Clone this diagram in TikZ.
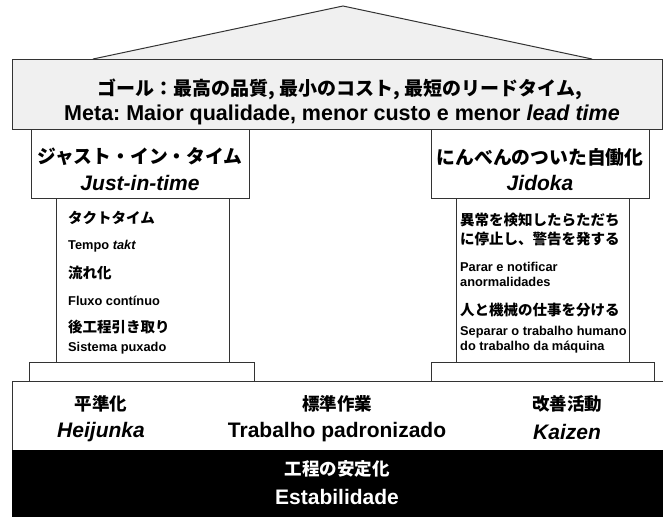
\documentclass[tikz,border=0pt]{standalone}
\usepackage{fontspec}
\setmainfont{Liberation Sans}
\newfontfamily\jp{Noto Sans CJK JP}
\definecolor{roofgray}{HTML}{F0F0F0}
\definecolor{edge}{HTML}{333333}
\frenchspacing
\begin{document}
\begin{tikzpicture}[x=1pt,y=-1pt,
  part/.style={draw=edge,line width=1pt},
  jpbig/.style={font=\jp\bfseries\fontsize{19}{22}\selectfont,inner sep=0pt},
  jphead/.style={font=\jp\bfseries\fontsize{18.8}{22}\selectfont,inner sep=0pt},
  jpmid/.style={font=\jp\bfseries\fontsize{17.5}{20}\selectfont,inner sep=0pt},
  jpsmall/.style={font=\jp\bfseries\fontsize{14.5}{17}\selectfont,inner sep=0pt,anchor=west},
  latbig/.style={font=\bfseries\fontsize{21}{24}\selectfont,inner sep=0pt},
  latsmall/.style={font=\bfseries\fontsize{12.8}{15}\selectfont,inner sep=0pt,anchor=west}]
\useasboundingbox (0,0) rectangle (663,517);
% roof
\draw[part,fill=roofgray] (93,59) -- (343,6) -- (592,59);
\draw[part,fill=roofgray] (12,59) rectangle (662.5,129);
% pillar shafts
\draw[part,fill=white] (56,198) rectangle (229,362);
\draw[part,fill=white] (456,198) rectangle (629,362);
% pillar heads
\draw[part,fill=white] (31,129) rectangle (249,198);
\draw[part,fill=white] (431,129) rectangle (649,198);
% pillar bases
\draw[part,fill=white] (29,362) rectangle (254,381);
\draw[part,fill=white] (431,362) rectangle (654,381);
% foundation
\draw[part,fill=white] (12,381) rectangle (664,450);
\fill[black] (12,450) rectangle (663,517);
% roof text
\node[jpbig] (goaljp) at (340,89) {ゴール：最高の品質, 最小のコスト, 最短のリードタイム,};
\node[latbig,font=\bfseries\fontsize{21.5}{24}\selectfont] (goalpt) at (342,115) {Meta: Maior qualidade, menor custo e menor \textit{lead time}};
% pillar heads text
\node[jphead] (jitjp) at (140,157) {ジャスト・イン・タイム};
\node[latbig] (jitpt) at (140,183) {\textit{Just-in-time}};
\node[jphead] (jidjp) at (540,157) {にんべんのついた自働化};
\node[latbig] (jidpt) at (540,183) {\textit{Jidoka}};
% left shaft
\node[jpsmall] (l1) at (68,218) {タクトタイム};
\node[latsmall] (l2) at (68,246) {Tempo \textit{takt}};
\node[jpsmall] (l3) at (68,273) {流れ化};
\node[latsmall] (l4) at (68,301) {Fluxo contínuo};
\node[jpsmall] (l5) at (68,327) {後工程引き取り};
\node[latsmall] (l6) at (68,348) {Sistema puxado};
% right shaft
\node[jpsmall] (r1) at (460,220) {異常を検知したらただち};
\node[jpsmall] (r2) at (460,239) {に停止し、警告を発する};
\node[latsmall] (r3) at (460,267) {Parar e notificar};
\node[latsmall] (r4) at (460,282) {anormalidades};
\node[jpsmall] (r5) at (460,310) {人と機械の仕事を分ける};
\node[latsmall] (r6) at (460,332) {Separar o trabalho humano};
\node[latsmall] (r7) at (460,347) {do trabalho da máquina};
% foundation
\node[jpmid] (f1jp) at (101,404) {平準化};
\node[latbig] (f1pt) at (101,432) {\textit{Heijunka}};
\node[jpmid] (f2jp) at (337,404) {標準作業};
\node[latbig] (f2pt) at (337,432) {Trabalho padronizado};
\node[jpmid] (f3jp) at (567,404) {改善活動};
\node[latbig] (f3pt) at (567,432) {\textit{Kaizen}};
\node[jpmid,text=white] (basejp) at (337,469) {工程の安定化};
\node[latbig,text=white] (basept) at (337,497) {Estabilidade};
\end{tikzpicture}
\end{document}
